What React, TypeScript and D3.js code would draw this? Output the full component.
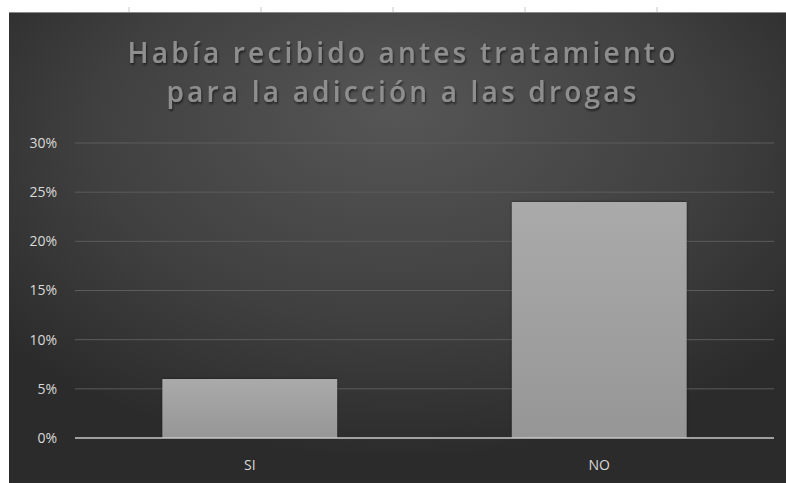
import React from "react";
import * as d3 from "d3";

const categories = ["SI", "NO"];
const values = [0.06, 0.24];
const yTicks = [0, 0.05, 0.1, 0.15, 0.2, 0.25, 0.3];
const titleLines = ["Había recibido antes tratamiento", "para la adicción a las drogas"];
const rulerTicks = [129, 261, 393, 525, 657];

const W = 786;
const H = 483;
const plot = { left: 75, right: 774, top: 143, bottom: 438 };

export default function App() {
  const x = d3
    .scaleBand<string>()
    .domain(categories)
    .range([plot.left, plot.right])
    .paddingInner(0.5)
    .paddingOuter(0.25);
  const y = d3.scaleLinear().domain([0, 0.3]).range([plot.bottom, plot.top]);
  const fmt = d3.format(".0%");

  return (
    <svg
      width={W}
      height={H}
      style={{ position: "absolute", left: 0, top: 0, background: "#fff" }}
    >
      <defs>
        <radialGradient id="bg" cx="50%" cy="30%" r="65%" fx="50%" fy="20%">
          <stop offset="0%" stopColor="#565656" />
          <stop offset="60%" stopColor="#404040" />
          <stop offset="100%" stopColor="#2b2b2b" />
        </radialGradient>
        <linearGradient id="bar" x1="0" y1="0" x2="0" y2="1">
          <stop offset="0%" stopColor="#aaaaaa" />
          <stop offset="100%" stopColor="#969696" />
        </linearGradient>
        <filter id="shadow" x="-10%" y="-10%" width="120%" height="130%">
          <feDropShadow dx="1" dy="2" stdDeviation="1.2" floodColor="#000" floodOpacity="0.55" />
        </filter>
        <filter id="barShadow" x="-10%" y="-10%" width="120%" height="120%">
          <feDropShadow dx="0" dy="0" stdDeviation="1.5" floodColor="#000" floodOpacity="0.5" />
        </filter>
      </defs>
      {rulerTicks.map((t) => (
        <line key={t} x1={t} x2={t} y1={7} y2={12} stroke="#c8c8c8" strokeWidth={1} />
      ))}
      <rect x={9} y={12} width={W - 9} height={H - 12} fill="url(#bg)" />
      <line x1={9} x2={W} y1={12.5} y2={12.5} stroke="#8a8a8a" strokeWidth={1} />

      {titleLines.map((line, i) => (
        <text
          key={i}
          x={403}
          y={63 + i * 39}
          textAnchor="middle"
          fontFamily="'Open Sans', sans-serif"
          fontWeight={600}
          fontSize={28}
          letterSpacing={3.2}
          fill="#8e8e8e"
          filter="url(#shadow)"
        >
          {line}
        </text>
      ))}

      {yTicks.map((t) => (
        <g key={t}>
          {t > 0 && (
            <line
              x1={plot.left}
              x2={plot.right}
              y1={y(t)}
              y2={y(t)}
              stroke="#5c5c5c"
              strokeWidth={1}
            />
          )}
          <text
            x={57}
            y={y(t)}
            dy="0.35em"
            textAnchor="end"
            fontFamily="'Open Sans', sans-serif"
            fontSize={14}
            fill="#d9d9d9"
          >
            {fmt(t)}
          </text>
        </g>
      ))}

      {categories.map((c, i) => (
        <rect
          key={c}
          x={x(c)}
          y={y(values[i])}
          width={x.bandwidth()}
          height={plot.bottom - y(values[i])}
          fill="url(#bar)"
          filter="url(#barShadow)"
        />
      ))}

      <line
        x1={plot.left}
        x2={plot.right}
        y1={plot.bottom}
        y2={plot.bottom}
        stroke="#c8c8c8"
        strokeWidth={1.5}
      />

      {categories.map((c) => (
        <text
          key={c}
          x={(x(c) as number) + x.bandwidth() / 2}
          y={465}
          dy="0.35em"
          textAnchor="middle"
          fontFamily="'Open Sans', sans-serif"
          fontSize={14}
          fill="#d9d9d9"
        >
          {c}
        </text>
      ))}
    </svg>
  );
}
